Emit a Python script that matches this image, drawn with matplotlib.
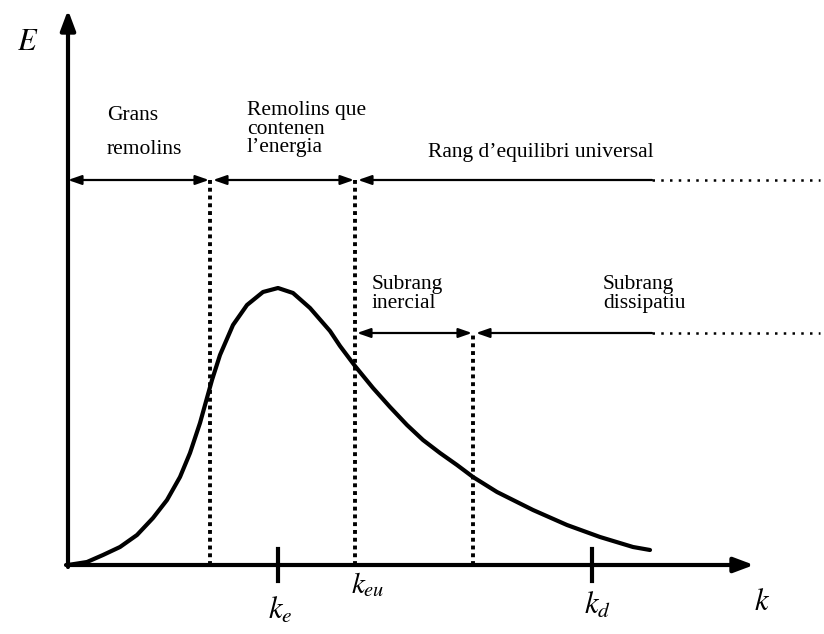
import matplotlib.pyplot as plt

# spectrum curve (k, E) in plot units
curve_k = [0, 19, 35, 52, 69, 85, 99, 112, 122, 132, 144, 152, 165, 179, 195, 210,
           225, 242, 262, 272, 287, 305, 322, 339, 355, 372, 389, 405, 429, 465, 499,
           532, 565, 582]
curve_E = [0, 3, 10, 18, 30, 47, 65, 88, 112, 142, 185, 210, 240, 260, 273, 277,
           272, 257, 234, 219, 199, 177, 158, 140, 125, 112, 100, 88, 73, 55, 40,
           28, 18, 15]

# region boundaries and marked wavenumbers
k_boundaries = [142, 287, 405]
top_level = 385
sub_level = 232
solid_end = 584
dotted_end = 752
k_ticks = [210, 524]

plt.rcParams['mathtext.fontset'] = 'stix'
serif = 'Liberation Serif'

fig = plt.figure(figsize=(8.24, 6.34), dpi=100)
ax = fig.add_axes([0, 0, 1, 1])
ax.set_xlim(-68, 756)
ax.set_ylim(-69, 565)
ax.axis('off')

# axes with arrows
ax.annotate('', xy=(0, 555), xytext=(0, -2),
            arrowprops=dict(arrowstyle='-|>,head_length=1.2,head_width=0.45', lw=3, color='black',
                            shrinkA=0, shrinkB=0))
ax.annotate('', xy=(686, 0), xytext=(-2, 0),
            arrowprops=dict(arrowstyle='-|>,head_length=1.2,head_width=0.45', lw=3, color='black',
                            shrinkA=0, shrinkB=0))

# spectrum
ax.plot(curve_k, curve_E, color='black', lw=3, solid_capstyle='round', solid_joinstyle='round')

# dotted boundaries
ax.plot([k_boundaries[0]] * 2, [0, top_level], color='black', lw=2.8, ls=(0, (1, 1)))
ax.plot([k_boundaries[1]] * 2, [0, top_level], color='black', lw=2.8, ls=(0, (1, 1)))
ax.plot([k_boundaries[2]] * 2, [0, sub_level], color='black', lw=2.8, ls=(0, (1, 1)))

both_kw = dict(arrowstyle='<|-|>,head_length=0.8,head_width=0.28', lw=1.6, color='black',
               shrinkA=0, shrinkB=0)
one_kw = dict(arrowstyle='-|>,head_length=0.8,head_width=0.28', lw=1.6, color='black',
              shrinkA=0, shrinkB=0)

# top band
ax.annotate('', xy=(0, top_level), xytext=(k_boundaries[0] - 1, top_level), arrowprops=both_kw)
ax.annotate('', xy=(k_boundaries[0] + 3, top_level), xytext=(k_boundaries[1] - 1, top_level),
            arrowprops=both_kw)
ax.annotate('', xy=(k_boundaries[1] + 3, top_level), xytext=(solid_end, top_level), arrowprops=one_kw)
ax.plot([solid_end, dotted_end], [top_level, top_level], color='black', lw=1.8, ls=(0, (1, 2.5)))

# sub band
ax.annotate('', xy=(k_boundaries[1] + 2, sub_level), xytext=(k_boundaries[2] - 1, sub_level),
            arrowprops=both_kw)
ax.annotate('', xy=(k_boundaries[2] + 3, sub_level), xytext=(solid_end, sub_level), arrowprops=one_kw)
ax.plot([solid_end, dotted_end], [sub_level, sub_level], color='black', lw=1.8, ls=(0, (1, 2.5)))

# ticks
for kt in k_ticks:
    ax.plot([kt, kt], [16, -16], color='black', lw=3)

# labels
ax.text(-40, 523, '$E$', fontsize=22, ha='center', va='center')
ax.text(694, -37, '$k$', fontsize=22, ha='center', va='center')
ax.text(212, -45, '$k_e$', fontsize=22, ha='center', va='center')
ax.text(300, -20, '$k_{eu}$', fontsize=21, ha='center', va='center')
ax.text(529, -40, '$k_d$', fontsize=22, ha='center', va='center')

fs = 15.5
ax.text(39, 450, 'Grans', family=serif, fontsize=fs, ha='left', va='center')
ax.text(39, 415, 'remolins', family=serif, fontsize=fs, ha='left', va='center')
ax.text(179, 436, 'Remolins que\ncontenen\nl\u2019energia', family=serif, fontsize=fs,
        ha='left', va='center', linespacing=0.98)
ax.text(473, 413, 'Rang d\u2019equilibri universal', family=serif, fontsize=fs,
        ha='center', va='center')
ax.text(304, 271, 'Subrang\ninercial', family=serif, fontsize=fs, ha='left', va='center',
        linespacing=0.98)
ax.text(535, 271, 'Subrang\ndissipatiu', family=serif, fontsize=fs, ha='left', va='center',
        linespacing=0.98)

fig.savefig('out.png', dpi=100, facecolor='white')
